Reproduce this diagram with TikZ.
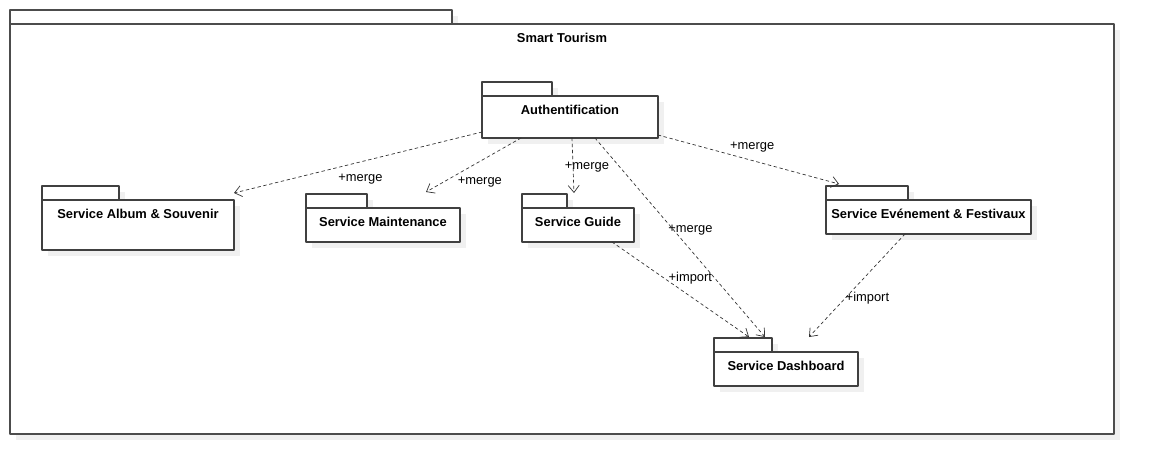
\documentclass[tikz,border=0pt]{standalone}
\usepackage{fontspec}
\setmainfont{Liberation Sans}
\usetikzlibrary{positioning}
\usetikzlibrary{calc}
\usetikzlibrary{shadows}
\usetikzlibrary{arrows.meta}

\begin{document}
\begin{tikzpicture}[x=1pt,y=-1pt,line cap=round,line join=round,
  font=\fontsize{12.9}{15}\selectfont,
  pkgshadow/.style={drop shadow={shadow xshift=6pt,shadow yshift=-6pt,fill=black!6,opacity=1}},
  pkgtab/.style={draw=black!75,line width=1.1pt,fill=white,anchor=north west,inner sep=0pt,outer sep=0pt,minimum height=14pt,pkgshadow},
  pkgbody/.style={draw=black!75,line width=1.1pt,fill=white,anchor=north west,inner sep=0pt,outer sep=0pt,pkgshadow},
  pkgtitle/.style={anchor=north,yshift=-9pt,inner sep=0pt,text height=9pt,font=\fontsize{12.9}{15}\selectfont\bfseries},
  conn/.style={draw=black!80,line width=0.7pt,dash pattern=on 3pt off 3pt,-{Straight Barb[length=7pt,width=11pt]}},
  lbl/.style={inner sep=0pt,text height=9pt,text depth=2.5pt,yshift=-2pt}]
\useasboundingbox (0,0) rectangle (1154,474);
% outer package
\node[pkgtab,draw=black!70,line width=1.5pt,minimum width=442pt] (tourismtab) at (10,10) {};
\node[pkgbody,draw=black!70,line width=1.5pt,minimum width=1104pt,minimum height=410pt,label={[pkgtitle]north:Smart Tourism}] (tourism) at (tourismtab.south west) {};
% packages
\node[pkgtab,minimum width=70pt] (authtab) at (482,82) {};
\node[pkgbody,minimum width=176pt,minimum height=42pt,label={[pkgtitle]north:Authentification}] (auth) at (authtab.south west) {};
\node[pkgtab,minimum width=77pt] (albumtab) at (42,186) {};
\node[pkgbody,minimum width=192pt,minimum height=50pt,label={[pkgtitle]north:Service Album \& Souvenir}] (album) at (albumtab.south west) {};
\node[pkgtab,minimum width=61pt] (mainttab) at (306,194) {};
\node[pkgbody,minimum width=154pt,minimum height=34pt,label={[pkgtitle]north:Service Maintenance}] (maint) at (mainttab.south west) {};
\node[pkgtab,minimum width=45pt] (guidetab) at (522,194) {};
\node[pkgbody,minimum width=112pt,minimum height=34pt,label={[pkgtitle]north:Service Guide}] (guide) at (guidetab.south west) {};
\node[pkgtab,minimum width=82pt] (eventtab) at (826,186) {};
\node[pkgbody,minimum width=205pt,minimum height=34pt,label={[pkgtitle]north:Service Evénement \& Festivaux}] (event) at (eventtab.south west) {};
\node[pkgtab,minimum width=58pt] (dashtab) at (714,338) {};
\node[pkgbody,minimum width=144pt,minimum height=34pt,label={[pkgtitle]north:Service Dashboard}] (dash) at (dashtab.south west) {};
% merge
\draw[conn] ($(auth.south west)+(0,-6)$) -- node[lbl,pos=0.49,yshift=-14pt] (m1) {+merge} ($(album.north east)+(0,-7)$);
\draw[conn] ($(auth.south west)+(39,0)$) -- node[lbl,pos=0.76,xshift=31pt] (m2) {+merge} ($(maint.north west)+(120,-16)$);
\draw[conn] ($(auth.south west)+(90,0)$) -- node[lbl,pos=0.47,xshift=14pt] (m3) {+merge} ($(guide.north west)+(52,-15)$);
\draw[conn] ($(auth.south west)+(113,0)$) -- node[lbl,pos=0.45,xshift=19pt] (m4) {+merge} ($(dash.north west)+(51,-15)$);
\draw[conn] ($(auth.south east)+(0,-3)$) -- node[lbl,pos=0.52,yshift=16pt] (m5) {+merge} ($(event.north west)+(13,-16)$);
% import
\draw[conn] ($(guide.south west)+(90,0)$) -- node[lbl,pos=0.36,xshift=29pt] (i1) {+import} ($(dash.north west)+(35,-15)$);
\draw[conn] ($(event.south west)+(79,0)$) -- node[lbl,pos=0.6,xshift=20pt] (i2) {+import} ($(dash.north west)+(95,-15)$);
\end{tikzpicture}
\end{document}
